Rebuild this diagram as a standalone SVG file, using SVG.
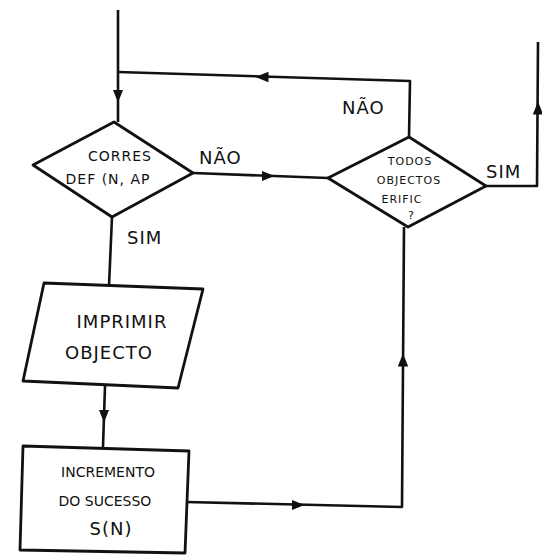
<svg xmlns="http://www.w3.org/2000/svg" width="542" height="557" viewBox="0 0 542 557">
<style>
.s{fill:none;stroke:#111;stroke-width:2.6;stroke-linejoin:round}
.n{fill:#fff;stroke:#111;stroke-width:2.8;stroke-linejoin:round}
text{font-family:"DejaVu Sans","Liberation Sans",sans-serif;fill:#111}
.t{font-size:18px;letter-spacing:1px}
.sm{font-size:14px}
.xs{font-size:11px}
</style>
<defs>
<marker id="a" viewBox="0 0 10 10" refX="5" refY="5" markerWidth="5" markerHeight="5" orient="auto-start-reverse" markerUnits="strokeWidth">
<path d="M0,1 L10,5 L0,9 Z" fill="#111"/>
</marker>
</defs>
<rect width="542" height="557" fill="#fff"/>
<g id="connectors">
<path class="s" d="M118,10 L118,122"/>
<path class="s" d="M118,95 L118,96" marker-end="url(#a)"/>
<path class="s" d="M409,137 L410,81 L118,72"/>
<path class="s" d="M268,77 L262,77" marker-end="url(#a)"/>
<path class="s" d="M193,173 L328,178"/>
<path class="s" d="M262,176 L268,176" marker-end="url(#a)"/>
<path class="s" d="M486,186 L537,186 L538,42"/>
<path class="s" d="M538,114 L538,108" marker-end="url(#a)"/>
<path class="s" d="M112,217 L109,286"/>
<path class="s" d="M105,386 L103,447"/>
<path class="s" d="M104,410 L104,416" marker-end="url(#a)"/>
<path class="s" d="M186,502 L402,507 L404,227"/>
<path class="s" d="M292,505 L298,505" marker-end="url(#a)"/>
<path class="s" d="M403,366 L403,360" marker-end="url(#a)"/>
</g>
<g id="labels">
<text class="t" x="199" y="164">NÃO</text>
<text class="t" x="342" y="114">NÃO</text>
<text class="t" x="127" y="244">SIM</text>
<text class="t" x="486" y="178">SIM</text>
</g>
<g id="decision1">
<path class="n" d="M114,122 L193,173 L112,217 L33,165 Z"/>
<text class="sm" x="120" y="161" text-anchor="middle" letter-spacing="1">CORRES</text>
<text class="sm" x="108" y="184" text-anchor="middle" letter-spacing="1">DEF (N, AP</text>
</g>
<g id="decision2">
<path class="n" d="M409,137 L486,186 L408,227 L328,178 Z"/>
<text class="xs" x="410" y="165" text-anchor="middle" letter-spacing="1">TODOS</text>
<text class="xs" x="409" y="184" text-anchor="middle" letter-spacing="1">OBJECTOS</text>
<text class="xs" x="402" y="203" text-anchor="middle" letter-spacing="1">ERIFIC</text>
<text class="xs" x="411" y="219" text-anchor="middle">?</text>
</g>
<g id="print">
<path class="n" d="M44,283 L203,289 L178,388 L23,381 Z"/>
<text class="t" x="122" y="328" text-anchor="middle" font-size="20">IMPRIMIR</text>
<text class="t" x="109" y="359" text-anchor="middle" font-size="20">OBJECTO</text>
</g>
<g id="increment">
<path class="n" d="M23,446 L189,451 L185,553 L20,550 Z"/>
<text class="sm" x="108" y="477" text-anchor="middle" font-size="15">INCREMENTO</text>
<text class="sm" x="105" y="506" text-anchor="middle" font-size="15">DO SUCESSO</text>
<text class="t" x="111" y="535" text-anchor="middle" letter-spacing="4">S(N)</text>
</g>
</svg>
